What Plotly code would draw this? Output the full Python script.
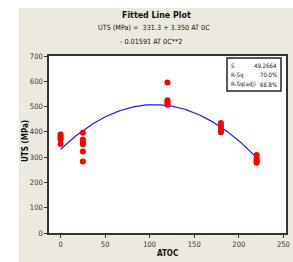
import numpy as np
import plotly.graph_objects as go

# ---- data ----
x_vals = [0, 0, 0, 0, 0,
          25, 25, 25, 25, 25, 25,
          120, 120, 120, 120, 120,
          180, 180, 180, 180, 180,
          220, 220, 220, 220, 220]
uts_vals = [390, 383, 376, 370, 352,
            396, 370, 360, 351, 322, 283,
            595, 525, 518, 512, 507,
            435, 425, 415, 405, 398,
            308, 298, 290, 284, 278]
fit_coef = [331.3, 3.350, -0.01591]   # b0, b1, b2
fit_x_range = [0, 220]
stat_labels = ["S", "R-Sq", "R-Sq(adj)"]
stat_values = ["49.2664", "70.0%", "66.8%"]
x_ticks = [0, 50, 100, 150, 200, 250]
y_ticks = [0, 100, 200, 300, 400, 500, 600, 700]

W, H = 293, 262
# plot area in window pixels: x 49..286, y 56..233
L, R, T, B = 49, W - 286, 56, H - 233
pw, ph = W - L - R, H - T - B

def px(xw):
    return (xw - L) / pw

def py(yw):
    return (H - B - yw) / ph

FONT = "Liberation Sans Narrow, DejaVu Sans Condensed, Arial Narrow, sans-serif"

xf = np.linspace(fit_x_range[0], fit_x_range[1], 200)
yf = fit_coef[0] + fit_coef[1] * xf + fit_coef[2] * xf ** 2

fig = go.Figure()
fig.add_trace(go.Scatter(x=xf, y=yf, mode="lines",
                         line=dict(color="#1a1aff", width=1.2),
                         hoverinfo="skip"))
fig.add_trace(go.Scatter(x=x_vals, y=uts_vals, mode="markers",
                         marker=dict(color="#ff0000", size=6,
                                     line=dict(width=0))))

bg = "#ECE9DF"
shapes = [
    # white strips outside the beige panel
    dict(type="rect", xref="paper", yref="paper",
         x0=px(-2), x1=px(19), y0=py(H + 2), y1=py(-2),
         fillcolor="white", line=dict(width=0), layer="below"),
    dict(type="rect", xref="paper", yref="paper",
         x0=px(-2), x1=px(W + 2), y0=py(8), y1=py(-2),
         fillcolor="white", line=dict(width=0), layer="below"),
    # stats box
    dict(type="rect", xref="paper", yref="paper",
         x0=px(227), x1=px(281), y0=py(91), y1=py(58),
         fillcolor="white", line=dict(color="#222222", width=1.5)),
]

def note(text, xw, yw, size, xanchor="center", angle=0, color="#111"):
    return dict(text=text, x=px(xw), y=py(yw), xref="paper", yref="paper",
                showarrow=False, xanchor=xanchor, yanchor="middle",
                textangle=angle,
                font=dict(family=FONT, size=size, color=color))

annotations = [
    note("<b>Fitted Line Plot</b>", 156.5, 15, 8.8),
    note("UTS (MPa) =  331.3 + 3.350 AT 0C", 154, 28, 7.2),
    note("- 0.01591 AT 0C**2", 151, 41, 7.2),
    note("<b>UTS (MPa)</b>", 25, 141, 8, angle=-90),
    note("<b>ATOC</b>", 167.5, 253, 8),
]
row_y = [65, 74.5, 84]
for lab, val, yy in zip(stat_labels, stat_values, row_y):
    annotations.append(note(lab, 229, yy, 6, xanchor="left"))
    annotations.append(note(val, 279, yy, 6, xanchor="right"))

tickfont = dict(family=FONT, size=7.5, color="#333")
fig.update_layout(
    width=W, height=H,
    margin=dict(l=L, r=R, t=T, b=B, pad=0, autoexpand=False),
    paper_bgcolor=bg, plot_bgcolor="white",
    showlegend=False,
    shapes=shapes, annotations=annotations,
    font=dict(family=FONT, size=8, color="#333"),
    xaxis=dict(range=[-13, 253], tickvals=x_ticks, ticks="outside",
               ticklen=3, tickcolor="#333", showgrid=False, zeroline=False,
               showline=True, linecolor="#333", linewidth=1.5, mirror=True,
               automargin=False, tickfont=tickfont),
    yaxis=dict(range=[0, 700], tickvals=y_ticks, ticks="outside",
               ticklen=3, tickcolor="#333", showgrid=False, zeroline=False,
               showline=True, linecolor="#333", linewidth=1.5, mirror=True,
               automargin=False, tickfont=tickfont),
)

fig.write_html(
    "out.html",
    config={"responsive": False, "displayModeBar": False},
    post_script="document.body.style.margin='0';"
                "document.body.style.overflow='hidden';",
)
